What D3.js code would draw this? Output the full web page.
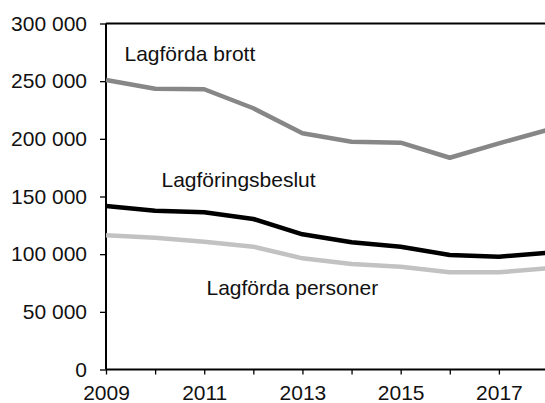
<!DOCTYPE html>
<html>
<head>
<meta charset="utf-8">
<script src="https://cdn.jsdelivr.net/npm/d3@7"></script>
<style>
  html, body { margin: 0; padding: 0; background: #fff; }
  svg { display: block; font-family: "Liberation Sans", Arial, sans-serif; }
</style>
</head>
<body>
<svg id="chart" width="545" height="403"></svg>
<script>
// years along x
const years = [2009, 2010, 2011, 2012, 2013, 2014, 2015, 2016, 2017, 2018];
const yearLabels = [2009, 2011, 2013, 2015, 2017];
const yTicks = [0, 50000, 100000, 150000, 200000, 250000, 300000];

// series
const brott = [251000, 243500, 243000, 226500, 204800, 197500, 196700, 183600, 196100, 207800];
const beslut = [141800, 137700, 136300, 130500, 117200, 110300, 106500, 99300, 97800, 101300];
const personer = [116400, 114300, 110800, 106500, 96400, 91500, 89100, 84300, 84300, 87700];

const seriesNames = ["Lagförda brott", "Lagföringsbeslut", "Lagförda personer"];

const svg = d3.select("#chart");
const m = { l: 106, t: 23.5, b: 369.5 };
const x = d3.scaleLinear().domain([2009, 2018]).range([m.l, 548]);
const y = d3.scaleLinear().domain([0, 300000]).range([m.b, m.t]);

const fmt = (v) => d3.format(",")(v).replace(/,/g, "\u00a0");

// top frame line
svg.append("line").attr("x1", m.l).attr("x2", 548).attr("y1", m.t).attr("y2", m.t)
  .attr("stroke", "#000").attr("stroke-width", 2);

// y axis
const ya = svg.append("g").attr("transform", `translate(${m.l},0)`)
  .call(d3.axisLeft(y).tickValues(yTicks).tickSize(6).tickPadding(13).tickFormat(fmt));
// x axis
const xa = svg.append("g").attr("transform", `translate(0,${m.b})`)
  .call(d3.axisBottom(x).tickValues(years).tickSize(5).tickPadding(11)
    .tickFormat((d) => (yearLabels.includes(d) ? d : "")));

[ya, xa].forEach((a) => {
  a.select(".domain").attr("stroke", "#000").attr("stroke-width", 2);
  a.selectAll(".tick line").attr("stroke", "#000").attr("stroke-width", 1.3);
  a.selectAll("text").attr("font-size", 21).attr("fill", "#111")
    .attr("font-family", "'Liberation Sans', Arial, sans-serif");
});
xa.selectAll(".tick line").attr("y2", 5);
xa.select(".domain").attr("d", `M${m.l},0H548`);
ya.select(".domain").attr("d", `M0,${m.t}V${m.b}`);

const line = d3.line().x((d, i) => x(years[i])).y((d) => y(d));
const defs = [
  { vals: brott, color: "#878787" },
  { vals: beslut, color: "#000000" },
  { vals: personer, color: "#c2c2c2" },
];
// draw light first so black sits on top
[defs[2], defs[0], defs[1]].forEach((s) => {
  svg.append("path").datum(s.vals).attr("fill", "none").attr("stroke", s.color)
    .attr("stroke-width", 4.5).attr("stroke-linejoin", "round").attr("d", line);
});

// in-plot labels
const labelPos = [[124.5, 61], [161.5, 186.5], [206.5, 294.5]];
seriesNames.forEach((n, i) => {
  svg.append("text").attr("x", labelPos[i][0]).attr("y", labelPos[i][1])
    .attr("font-size", 21).attr("fill", "#111").text(n);
});
</script>
</body>
</html>
